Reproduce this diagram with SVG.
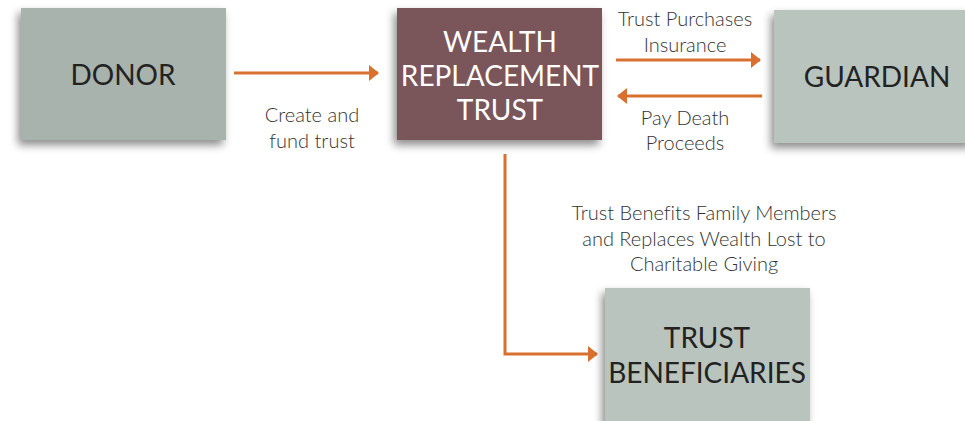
<svg xmlns="http://www.w3.org/2000/svg" width="965" height="421" viewBox="0 0 965 421">
  <style>
    .box { filter: url(#shadow); }
    .grey { fill: #a7b3ac; }
    .pale { fill: #b8c4bd; }
    .trust { fill: #7a545a; }
    text { font-variant-ligatures: none; }
    .title { font-family: Lato, "Open Sans", "Liberation Sans", sans-serif; font-size: 28px; text-anchor: middle; fill: #222; }
    .title.light { fill: #fff; }
    .label { font-family: Lato, "Open Sans", "Liberation Sans", sans-serif; font-size: 20px; font-weight: 300; text-anchor: middle; fill: #333; }
    .link { stroke: #d8712f; stroke-width: 3; fill: none; marker-end: url(#head); }
  </style>
  <defs>
    <filter id="shadow" x="-20%" y="-20%" width="140%" height="140%">
      <feDropShadow dx="-3" dy="5" stdDeviation="4" flood-color="#000" flood-opacity="0.45"/>
    </filter>
    <marker id="head" viewBox="0 0 10 16" refX="9" refY="8" markerWidth="10" markerHeight="16" markerUnits="userSpaceOnUse" orient="auto">
      <path d="M0,0 L10,8 L0,16 Z" fill="#d8712f"/>
    </marker>
  </defs>

  <rect width="965" height="421" fill="#fff"/>

  <!-- connectors -->
  <g id="connectors">
    <path class="link" d="M234,73 H378"/>
    <path class="link" d="M616,60 H760"/>
    <path class="link" d="M762,96 H618"/>
    <path class="link" d="M505,154 V354 H597"/>
  </g>

  <!-- edge labels -->
  <g id="labels">
    <text class="label" x="312" y="122">Create and</text>
    <text class="label" x="312" y="148">fund trust</text>
    <text class="label" x="685" y="26">Trust Purchases</text>
    <text class="label" x="685" y="52">Insurance</text>
    <text class="label" x="685" y="125">Pay Death</text>
    <text class="label" x="685" y="150">Proceeds</text>
    <text class="label" x="704" y="220">Trust Benefits Family Members</text>
    <text class="label" x="704" y="246">and Replaces Wealth Lost to</text>
    <text class="label" x="704" y="271">Charitable Giving</text>
  </g>

  <g id="donor">
    <rect class="box grey" x="21" y="8" width="205" height="132"/>
    <text class="title" x="123" y="85">DONOR</text>
  </g>

  <g id="wealth-replacement-trust">
    <rect class="box trust" x="397" y="8" width="205" height="132"/>
    <text class="title light" x="500" y="52">WEALTH</text>
    <text class="title light" x="500" y="86">REPLACEMENT</text>
    <text class="title light" x="500" y="120">TRUST</text>
  </g>

  <g id="guardian">
    <rect class="box pale" x="774" y="10" width="200" height="133"/>
    <text class="title" x="877" y="87">GUARDIAN</text>
  </g>

  <g id="trust-beneficiaries">
    <rect class="box pale" x="605" y="288" width="205" height="145"/>
    <text class="title" x="707" y="348">TRUST</text>
    <text class="title" x="707" y="383">BENEFICIARIES</text>
  </g>
</svg>
